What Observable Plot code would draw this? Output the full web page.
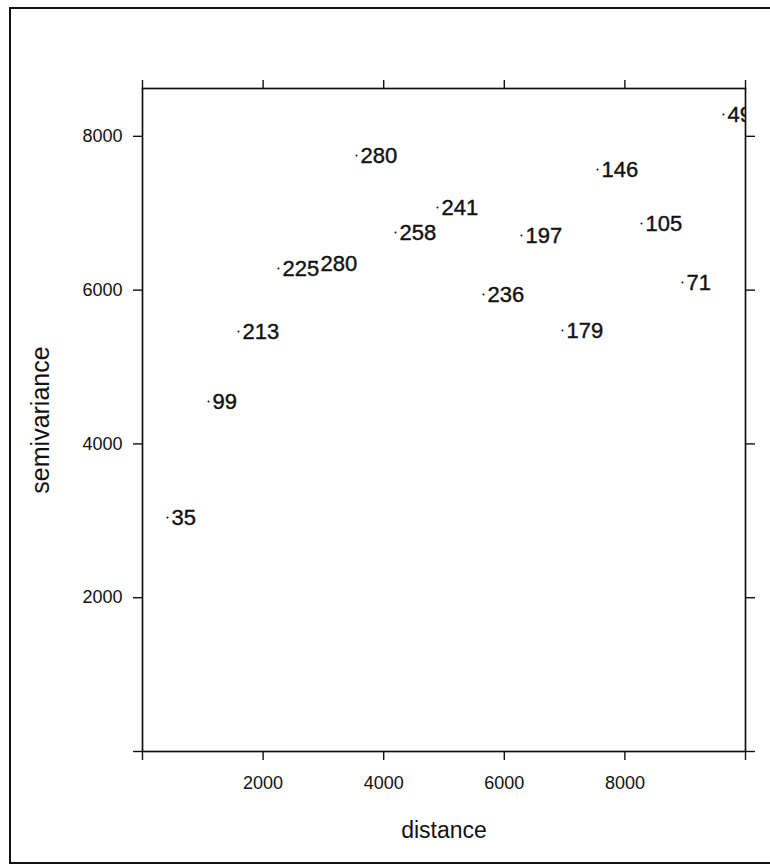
<!DOCTYPE html>
<html>
<head>
<meta charset="utf-8">
<script src="https://cdn.jsdelivr.net/npm/d3@7"></script>
<script src="https://cdn.jsdelivr.net/npm/@observablehq/plot@0.6"></script>
<style>
  html, body { margin: 0; padding: 0; background: #fff; }
  #wrap { position: relative; width: 770px; height: 867px; overflow: hidden; background: #fff; }
  #chart { position: absolute; left: 0; top: 0; }
  #border { position: absolute; left: 9px; top: 7px; width: 800px; height: 857px;
            border: 2px solid #111; box-sizing: border-box; pointer-events: none; }
  svg { font-family: "Liberation Sans", Arial, Helvetica, sans-serif; }
</style>
</head>
<body>
<div id="wrap"><div id="chart"></div><div id="border"></div></div>
<script>
// distance between point pairs (lag centre)
const distance = [415, 1095, 1592, 2255, 2886, 3549, 4196, 4892, 5655, 6285, 6965, 7546, 8275, 8955, 9635];
// semivariance estimate
const gamma = [3043, 4551, 5462, 6281, 6346, 7750, 6749, 7074, 5943, 6710, 5475, 7568, 6866, 6099, 8283];
// number of point pairs
const np = [35, 99, 213, 225, 280, 280, 258, 241, 236, 197, 179, 146, 105, 71, 49];

const xTicks = [0, 2000, 4000, 6000, 8000, 10000];
const yTicks = [0, 2000, 4000, 6000, 8000];
const labelled = [2000, 4000, 6000, 8000];

const data = distance.map((d, i) => ({dist: d, gamma: gamma[i], np: np[i]}));
const fmt = v => labelled.includes(v) ? String(v) : "";

const chart = Plot.plot({
  width: 770,
  height: 867,
  marginLeft: 142,
  marginRight: 25,
  marginTop: 88,
  marginBottom: 116,
  x: {domain: [0, 10000]},
  y: {domain: [0, 8622]},
  style: {fontFamily: '"Liberation Sans", Arial, Helvetica, sans-serif', color: "#111", background: "#fff"},
  marks: [
    Plot.frame({stroke: "#111", strokeWidth: 1.7}),
    Plot.axisX({anchor: "bottom", ticks: xTicks, tickSize: 9, tickPadding: 16, tickFormat: fmt,
                fontSize: 18, label: null, stroke: "#111", strokeWidth: 1.4}),
    Plot.axisX({anchor: "top", ticks: xTicks, tickSize: 9, tickFormat: () => "", label: null,
                stroke: "#111", strokeWidth: 1.4}),
    Plot.axisY({anchor: "left", ticks: yTicks, tickSize: 9, tickPadding: 11, tickFormat: fmt,
                fontSize: 18, label: null, stroke: "#111", strokeWidth: 1.4}),
    Plot.axisY({anchor: "right", ticks: yTicks, tickSize: 9, tickFormat: () => "", label: null,
                stroke: "#111", strokeWidth: 1.4}),
    Plot.axisX({anchor: "bottom", ticks: [], label: "distance", labelAnchor: "center",
                labelArrow: "none", labelOffset: 86, fontSize: 23}),
    Plot.axisY({anchor: "left", ticks: [], label: "semivariance", labelAnchor: "center",
                labelArrow: "none", labelOffset: 111, fontSize: 25}),
    Plot.dot(data, {x: "dist", y: "gamma", r: 1, fill: "#111", stroke: "none", clip: true}),
    Plot.text(data, {x: "dist", y: "gamma", text: d => String(d.np), textAnchor: "start",
                     dx: 4, dy: 0, fontSize: 22, fill: "#111", stroke: "#111", strokeWidth: 0.4,
                     clip: true})
  ]
});
document.getElementById("chart").appendChild(chart);
</script>
</body>
</html>
